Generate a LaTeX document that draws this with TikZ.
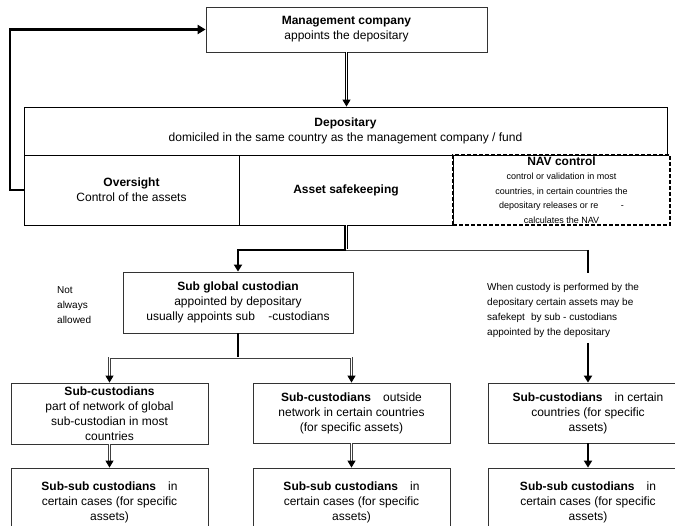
\documentclass[tikz,border=0pt]{standalone}
\usepackage{fontspec}
\setmainfont{Liberation Sans}
\usetikzlibrary{arrows.meta,calc}
\begin{document}
\begin{tikzpicture}[x=1pt,y=-1pt,
  box/.style={draw=black!80, line width=0.8pt, inner sep=0pt, align=center,
    font=\fontsize{12}{15}\selectfont},
  cell/.style={draw=black, line width=0.8pt, inner sep=0pt, align=center,
    font=\fontsize{12}{15}\selectfont},
  navbox/.style={draw=black, line width=1.6pt, dash pattern=on 4pt off 2pt,
    inner sep=0pt, align=center, font=\fontsize{9}{14.5}\selectfont},
  note/.style={inner sep=0pt, align=left, font=\fontsize{10}{15}\selectfont},
  thk/.style={draw=black, line width=2pt},
  fb/.style={draw=black, line width=2.4pt, -{Triangle[width=9pt,length=8pt]}},
  dbl/.style={draw=black, line width=1.2pt, double=white, double distance=1pt},
  dblthin/.style={draw=black!75, line width=0.9pt, double=white, double distance=1pt},
  tip/.style={draw=black, line width=1pt, -{Triangle[width=8pt,length=7pt]}},
  thktip/.style={thk, -{Triangle[width=8pt,length=7pt]}}
]
\useasboundingbox (0,0) rectangle (675,526);
\clip (0,0) rectangle (675,526);

% boxes
\node[box, minimum width=281, minimum height=45] (mgmt) at (346.5,29.5)
  {\textbf{Management company}\\appoints the depositary};
\node[cell, minimum width=643, minimum height=48] (dep) at (345.5,131)
  {\textbf{Depositary}\\domiciled in the same country as the management company / fund};
\node[cell, minimum width=215, minimum height=70] (over) at (131.5,190)
  {\textbf{Oversight}\\Control of the assets};
\node[cell, minimum width=214, minimum height=70] (asset) at (346,190)
  {\textbf{Asset safekeeping}};
\node[navbox, minimum width=217, minimum height=70] (nav) at (561.5,190)
  {{\fontsize{12}{14.5}\selectfont\textbf{NAV control}}\\control or validation in most\\countries, in certain countries the\\depositary releases or re\hspace{2.5em}-\\calculates the NAV};

\node[box, minimum width=230, minimum height=61] (sg) at (238,302.5)
  {\textbf{Sub global custodian}\\appointed by depositary\\usually appoints sub\hspace{1.1em}-custodians};
\node[note, anchor=west] (na) at (57,305) {Not\\always\\allowed};
\node[note, anchor=west] (wc) at (487,310)
  {When custody is performed by the\\depositary certain assets may be\\safekept\hspace{0.6em}by sub - custodians\\appointed by the depositary};

\node[box, minimum width=197, minimum height=61] (b1) at (109.5,413.5)
  {\textbf{Sub-custodians}\\part of network of global\\sub-custodian in most\\countries};
\node[box, minimum width=197, minimum height=60] (b2) at (351.5,413)
  {\textbf{Sub-custodians}\hspace{1em}outside\\network in certain countries\\(for specific assets)};
\node[box, minimum width=200, minimum height=60] (b3) at (588,413)
  {\textbf{Sub-custodians}\hspace{1em}in certain\\countries (for specific\\assets)};

\node[box, minimum width=197, minimum height=68] (s1) at (109.5,502)
  {\textbf{Sub-sub custodians}\hspace{1em}in\\certain cases (for specific\\assets)};
\node[box, minimum width=197, minimum height=68] (s2) at (351.5,502)
  {\textbf{Sub-sub custodians}\hspace{1em}in\\certain cases (for specific\\assets)};
\node[box, minimum width=200, minimum height=68] (s3) at (588,502)
  {\textbf{Sub-sub custodians}\hspace{1em}in\\certain cases (for specific\\assets)};

% management -> depositary
\coordinate (mdep) at (mgmt.south |- dep.north);
\draw[dbl, shorten >=5pt] (mgmt.south) -- (mdep);
\draw[tip] ($(mdep)+(0,-2)$) -- (mdep);

% feedback loop
\coordinate (fbk) at (10,29.5);
\draw[fb] (over.west) -- (over.west -| fbk) -- (fbk) -- (mgmt.west);

% asset safekeeping branches
\coordinate (j1) at (346,250);
\coordinate (r1) at (588,250);
\coordinate (r2) at (588,273);
\coordinate (r3) at (588,343);
\draw[dbl] (asset.south) -- (j1);
\draw[thktip] (j1) -| (sg.north);
\draw[dblthin] (j1) -- (r1);
\draw[thk] (r1) -- (r2);
\draw[thktip] (r3) -- (b3.north);

% sub global branches
\coordinate (j2) at (238,358);
\draw[thk] (sg.south) -- (j2);
\draw[dblthin, shorten >=5pt] (j2) -| (b1.north);
\draw[tip] ($(b1.north)+(0,-2)$) -- (b1.north);
\draw[dblthin, shorten >=5pt] (j2) -| (b2.north);
\draw[tip] ($(b2.north)+(0,-2)$) -- (b2.north);

% second row to third row
\draw[dblthin, shorten >=5pt] (b1.south) -- (s1.north);
\draw[tip] ($(s1.north)+(0,-2)$) -- (s1.north);
\draw[dblthin, shorten >=5pt] (b2.south) -- (s2.north);
\draw[tip] ($(s2.north)+(0,-2)$) -- (s2.north);
\draw[thktip] (b3.south) -- (s3.north);
\end{tikzpicture}
\end{document}
